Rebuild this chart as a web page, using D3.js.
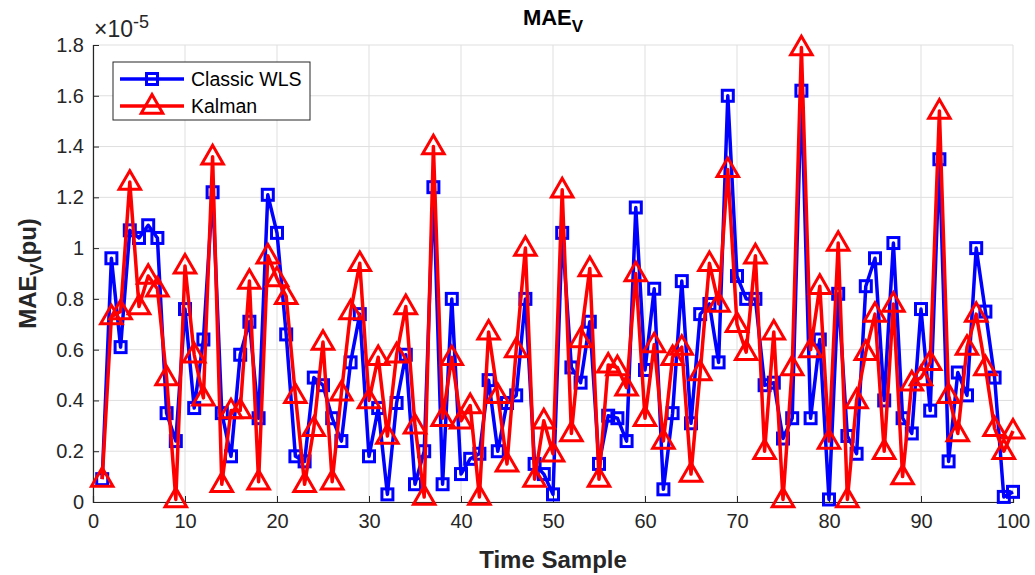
<!DOCTYPE html>
<html><head><meta charset="utf-8">
<script src="https://cdn.jsdelivr.net/npm/d3@7"></script>
<style>body{margin:0;background:#fff;}svg{font-family:"Liberation Sans",Arial,sans-serif;}</style>
</head><body><svg id="c" width="1035" height="575"></svg>
<script>
const samples = d3.range(1, 101);
const classicWLS = [0.09,0.96,0.61,1.07,1.04,1.09,1.04,0.35,0.24,0.76,
0.37,0.64,1.22,0.35,0.18,0.58,0.71,0.33,1.21,1.06,
0.66,0.18,0.16,0.49,0.46,0.33,0.24,0.55,0.74,0.18,
0.37,0.03,0.39,0.58,0.07,0.20,1.24,0.07,0.80,0.11,
0.17,0.19,0.48,0.20,0.39,0.42,0.80,0.15,0.11,0.03,
1.06,0.53,0.47,0.71,0.15,0.34,0.33,0.24,1.16,0.52,
0.84,0.05,0.35,0.87,0.31,0.74,0.78,0.55,1.60,0.89,
0.80,0.80,0.46,0.47,0.25,0.33,1.62,0.33,0.64,0.01,
0.82,0.26,0.19,0.85,0.96,0.40,1.02,0.33,0.27,0.76,
0.36,1.35,0.16,0.51,0.42,1.00,0.75,0.49,0.02,0.04];
const kalman = [0.09,0.73,0.75,1.26,0.77,0.89,0.84,0.49,0.01,0.93,
0.58,0.41,1.36,0.07,0.36,0.36,0.87,0.08,0.97,0.88,
0.81,0.42,0.07,0.29,0.63,0.08,0.43,0.75,0.94,0.40,
0.57,0.26,0.58,0.77,0.30,0.02,1.40,0.33,0.57,0.32,
0.38,0.02,0.67,0.42,0.15,0.60,1.00,0.09,0.32,0.19,
1.23,0.27,0.64,0.92,0.09,0.54,0.53,0.45,0.90,0.33,
0.62,0.24,0.57,0.61,0.11,0.51,0.94,0.78,1.31,0.70,
0.59,0.97,0.20,0.67,0.01,0.53,1.79,0.60,0.85,0.24,
1.02,0.01,0.40,0.59,0.74,0.20,0.78,0.10,0.47,0.49,
0.55,1.54,0.42,0.27,0.61,0.74,0.53,0.29,0.20,0.28];
const xTicks = [0,10,20,30,40,50,60,70,80,90,100];
const yTicks = [0,0.2,0.4,0.6,0.8,1,1.2,1.4,1.6,1.8];
const yTickLabels = ["0","0.2","0.4","0.6","0.8","1","1.2","1.4","1.6","1.8"];
const seriesNames = ["Classic WLS","Kalman"];

const svg = d3.select("#c");
const L=93,R=1013,T=45,B=502;
const x = d3.scaleLinear().domain([0,100]).range([L,R]);
const y = d3.scaleLinear().domain([0,1.8]).range([B,T]);

// grid
const g = svg.append("g");
g.selectAll(".gx").data(xTicks).enter().append("line")
 .attr("x1",d=>x(d)).attr("x2",d=>x(d)).attr("y1",T).attr("y2",B)
 .attr("stroke","#dfdfdf").attr("stroke-width",1);
g.selectAll(".gy").data(yTicks).enter().append("line")
 .attr("x1",L).attr("x2",R).attr("y1",d=>y(d)).attr("y2",d=>y(d))
 .attr("stroke","#dfdfdf").attr("stroke-width",1);

// axes
const xAxis = d3.axisBottom(x).tickValues(xTicks).tickSize(-6).tickPadding(12).tickFormat(d3.format("d"));
const yAxis = d3.axisLeft(y).tickValues(yTicks).tickSize(-6).tickPadding(9).tickFormat((d,i)=>yTickLabels[i]);
const ax = svg.append("g").attr("transform",`translate(0,${B})`).call(xAxis);
const ay = svg.append("g").attr("transform",`translate(${L},0)`).call(yAxis);
[ax,ay].forEach(a=>{
  a.select(".domain").attr("stroke","#262626").attr("stroke-width",1.2);
  a.selectAll(".tick line").attr("stroke","#262626");
  a.selectAll(".tick text").attr("fill","#262626").attr("font-size",20).attr("font-family","Liberation Sans, Arial, sans-serif");
});

// exponent
const ex = svg.append("text").attr("x",L+1).attr("y",T-8).attr("fill","#262626")
 .style("font-size","23px").style("font-family","Liberation Sans, Arial, sans-serif");
ex.append("tspan").style("font-size","23px").text("\u00d710");
ex.append("tspan").attr("dy",-9).style("font-size","18px").text("-5");

// lines
const line = d3.line().x((d,i)=>x(samples[i])).y(d=>y(d));
const blue="#0000ff", red="#ff0000";
svg.append("path").datum(classicWLS).attr("d",line).attr("fill","none").attr("stroke",blue).attr("stroke-width",3.5).attr("stroke-linejoin","round");
svg.selectAll(".sq").data(classicWLS).enter().append("rect")
 .attr("x",(d,i)=>x(samples[i])-5.5).attr("y",d=>y(d)-5.5).attr("width",11).attr("height",11)
 .attr("fill","none").attr("stroke",blue).attr("stroke-width",3);
svg.append("path").datum(kalman).attr("d",line).attr("fill","none").attr("stroke",red).attr("stroke-width",3.5).attr("stroke-linejoin","round");
const tri = d3.symbol().type(d3.symbolTriangle).size(200);
svg.selectAll(".tr").data(kalman).enter().append("path")
 .attr("d",tri).attr("transform",(d,i)=>`translate(${x(samples[i])},${y(d)+1})`)
 .attr("fill","none").attr("stroke",red).attr("stroke-width",3).attr("stroke-linejoin","miter");

// title & labels
const title = svg.append("text").attr("x",(L+R)/2).attr("y",25).attr("text-anchor","middle")
 .attr("font-size",22).attr("font-weight","bold").attr("fill","#000");
title.append("tspan").text("MAE");
title.append("tspan").attr("dy",7).attr("font-size",17).text("V");

svg.append("text").attr("x",(L+R)/2).attr("y",568).attr("text-anchor","middle")
 .attr("font-size",24).attr("font-weight","bold").attr("fill","#262626").text("Time Sample");

const yl = svg.append("text").attr("transform",`translate(36,${(T+B)/2}) rotate(-90)`).attr("text-anchor","middle")
 .attr("font-size",24).attr("font-weight","bold").attr("fill","#262626");
yl.append("tspan").text("MAE");
yl.append("tspan").attr("dy",7).attr("font-size",18).text("V");
yl.append("tspan").attr("dy",-7).text("(pu)");

// legend
const lg = svg.append("g");
lg.append("rect").attr("x",113).attr("y",62).attr("width",197).attr("height",58)
 .attr("fill","#fff").attr("stroke","#262626").attr("stroke-width",1);
const rows=[{n:seriesNames[0],c:blue,m:"sq",y:79},{n:seriesNames[1],c:red,m:"tr",y:106}];
rows.forEach(r=>{
  lg.append("line").attr("x1",120).attr("x2",184).attr("y1",r.y).attr("y2",r.y).attr("stroke",r.c).attr("stroke-width",3.5);
  if(r.m==="sq") lg.append("rect").attr("x",146.5).attr("y",r.y-5.5).attr("width",11).attr("height",11).attr("fill","none").attr("stroke",r.c).attr("stroke-width",3);
  else lg.append("path").attr("d",tri).attr("transform",`translate(152,${r.y+1})`).attr("fill","none").attr("stroke",r.c).attr("stroke-width",3);
  lg.append("text").attr("x",191).attr("y",r.y+7).attr("font-size",19.5).attr("fill","#000").text(r.n);
});
</script></body></html>
